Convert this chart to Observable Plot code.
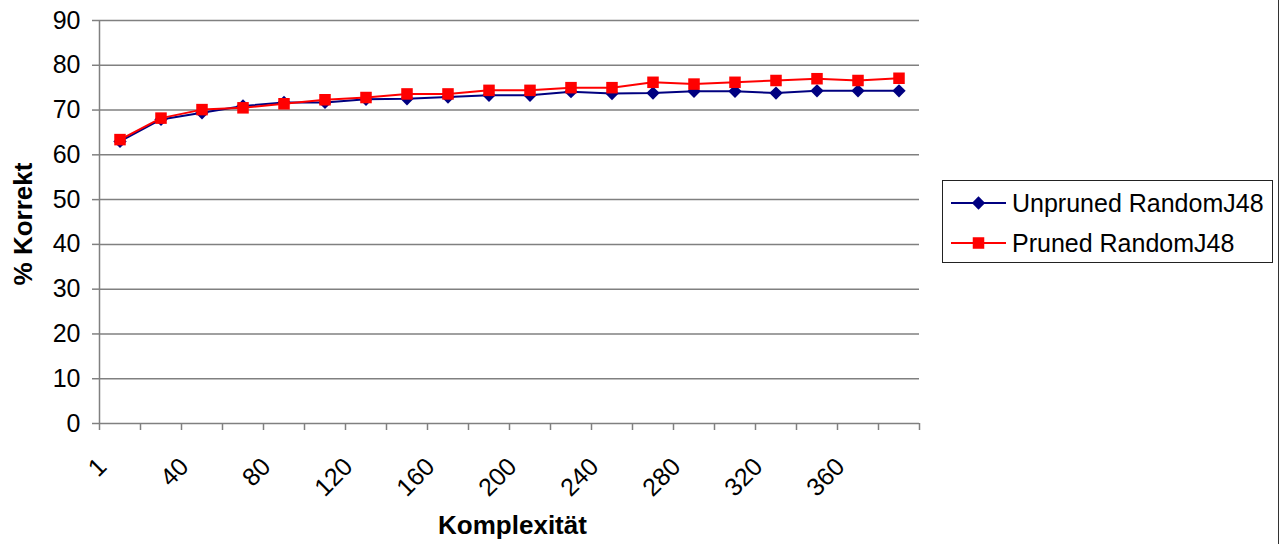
<!DOCTYPE html>
<html>
<head>
<meta charset="utf-8">
<script src="https://cdn.jsdelivr.net/npm/d3@7"></script>
<script src="https://cdn.jsdelivr.net/npm/@observablehq/plot@0.6"></script>
<style>
  html, body { margin: 0; padding: 0; background: #fff; }
  body { width: 1284px; height: 544px; position: relative; overflow: hidden; font-family: "Liberation Sans", Arial, sans-serif; }
  #chart { position: absolute; left: 0; top: 0; }
  #legend { position: absolute; left: 942px; top: 180px; width: 329px; height: 81px; border: 1px solid #222; background: #fff; }
  #edge { position: absolute; left: 1278px; top: 0; width: 0; height: 544px; border-left: 1.5px solid #333; }
</style>
</head>
<body>
<div id="chart"></div>
<div id="legend"></div>
<div id="edge"></div>
<script>
const categories = ["1","20","40","60","80","100","120","140","160","180","200","220","240","260","280","300","320","340","360","380"];
const unpruned = [63.0, 67.9, 69.4, 70.9, 71.7, 71.7, 72.4, 72.5, 72.9, 73.3, 73.3, 74.1, 73.7, 73.8, 74.2, 74.2, 73.8, 74.3, 74.3, 74.3];
const pruned   = [63.4, 68.2, 70.1, 70.5, 71.4, 72.3, 72.8, 73.6, 73.6, 74.4, 74.4, 75.0, 75.0, 76.2, 75.8, 76.2, 76.6, 77.0, 76.6, 77.1];
const seriesNames = ["Unpruned RandomJ48", "Pruned RandomJ48"];
const seriesColors = ["#000080", "#FF0000"];
const yTicks = [0, 10, 20, 30, 40, 50, 60, 70, 80, 90];
const xLabelEvery = 2;

const idx = d3.range(categories.length);
const boundaries = d3.range(categories.length + 1).map(i => i - 0.5);
const labelIdx = idx.filter(i => i % xLabelEvery === 0);
const rowsU = idx.map(i => ({i, v: unpruned[i]}));
const rowsP = idx.map(i => ({i, v: pruned[i]}));

const font = "Liberation Sans, Arial, sans-serif";
const gray = "#808080";

const chart = Plot.plot({
  width: 1284,
  height: 544,
  marginLeft: 99,
  marginRight: 365,
  marginTop: 20,
  marginBottom: 121,
  style: { fontFamily: font, background: "white", overflow: "visible" },
  x: { type: "linear", domain: [-0.5, categories.length - 0.5], axis: null },
  y: { domain: [0, 90], axis: null },
  marks: [
    Plot.ruleY(yTicks.filter(t => t > 0), { stroke: gray, strokeWidth: 1.5 }),
    Plot.axisY({ ticks: yTicks, tickSize: 7, tickPadding: 12, stroke: gray, strokeWidth: 1.5, fill: "black", fontSize: 25, label: null, tickFormat: d => String(d) }),
    Plot.axisX({ ticks: boundaries, tickSize: 7, stroke: gray, strokeWidth: 1.5, tickFormat: () => "", label: null }),
    Plot.ruleX([-0.5], { stroke: gray, strokeWidth: 1.5 }),
    Plot.ruleY([0], { stroke: gray, strokeWidth: 1.5 }),
    Plot.text(labelIdx, { x: i => i - 0.5, y: () => 0, text: i => categories[i], rotate: -45, textAnchor: "end", lineAnchor: "middle", dx: 3, dy: 39, fontSize: 25, fill: "black" }),
    Plot.text(["Komplexität"], { frameAnchor: "bottom", lineAnchor: "middle", dx: 3, dy: 102, fontSize: 26, fontWeight: "bold", fill: "black" }),
    Plot.text(["% Korrekt"], { frameAnchor: "left", rotate: -90, textAnchor: "middle", lineAnchor: "middle", dx: -76, dy: 2, fontSize: 26, fontWeight: "bold", fill: "black" }),
    Plot.line(rowsU, { x: "i", y: "v", stroke: seriesColors[0], strokeWidth: 2 }),
    Plot.dot(rowsU, { x: "i", y: "v", symbol: "diamond2", r: 6, fill: seriesColors[0], stroke: "none" }),
    Plot.line(rowsP, { x: "i", y: "v", stroke: seriesColors[1], strokeWidth: 2 }),
    Plot.dot(rowsP, { x: "i", y: "v", symbol: "square", r: 6.5, fill: seriesColors[1], stroke: "none" })
  ]
});
document.getElementById("chart").appendChild(chart);

// Legend
const leg = d3.select("#legend").append("svg").attr("width", 329).attr("height", 81).style("display", "block");
const symbols = [d3.symbolDiamond2, d3.symbolSquare];
const sizes = [Math.PI * 6 * 6, Math.PI * 6.5 * 6.5];
seriesNames.forEach((name, k) => {
  const cy = 22 + k * 40;
  const g = leg.append("g");
  g.append("line").attr("x1", 8).attr("x2", 63).attr("y1", cy).attr("y2", cy).attr("stroke", seriesColors[k]).attr("stroke-width", 2);
  g.append("path").attr("d", d3.symbol(symbols[k], sizes[k])()).attr("transform", `translate(35.5,${cy})`).attr("fill", seriesColors[k]);
  g.append("text").attr("x", 69).attr("y", cy).attr("dy", "0.35em").attr("font-size", 25).attr("font-family", font).attr("fill", "black").text(name);
});
</script>
</body>
</html>
